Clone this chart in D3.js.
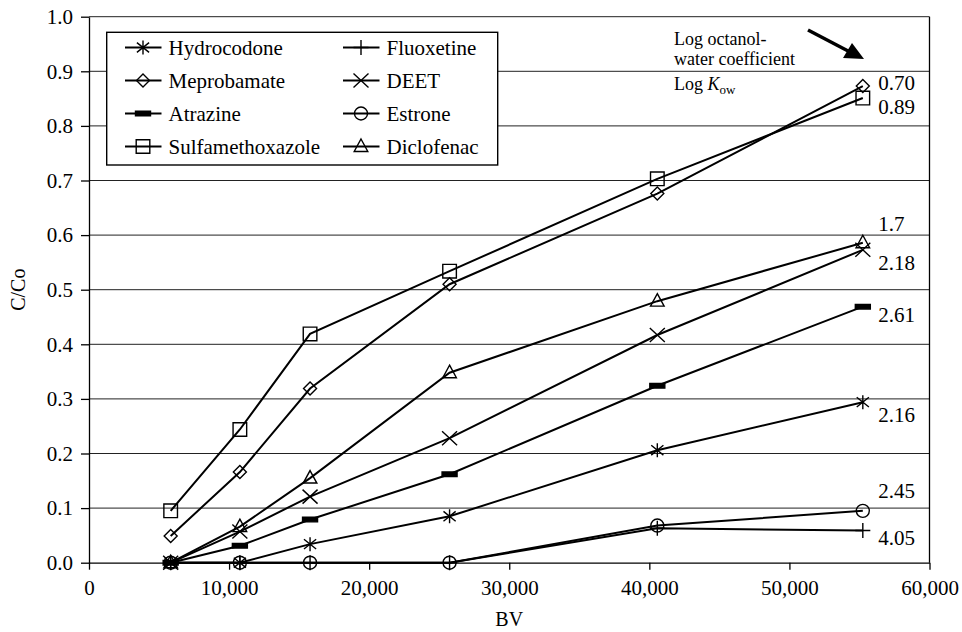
<!DOCTYPE html>
<html><head><meta charset="utf-8">
<script src="https://cdn.jsdelivr.net/npm/d3@7"></script>
<style>
html,body{margin:0;padding:0;background:#fff;}
svg text{font-family:"Liberation Serif","Times New Roman",serif;fill:#000;}
</style></head>
<body>
<svg id="chart" width="962" height="632"></svg>
<script>
// ---- data ----
const bv = [5830, 10770, 15780, 25740, 40570, 55240];
const seriesNames = ["Hydrocodone","Meprobamate","Atrazine","Sulfamethoxazole","Fluoxetine","DEET","Estrone","Diclofenac"];
const hydrocodone      = [0, 0, 0.034, 0.085, 0.206, 0.294];
const meprobamate      = [0.049, 0.166, 0.319, 0.510, 0.676, 0.873];
const atrazine         = [0, 0.031, 0.079, 0.162, 0.324, 0.469];
const sulfamethoxazole = [0.095, 0.244, 0.419, 0.534, 0.703, 0.851];
const fluoxetine       = [0, 0, 0, 0, 0.063, 0.059];
const deet             = [0, 0.057, 0.121, 0.228, 0.417, 0.573];
const estrone          = [0, 0, 0, 0, 0.068, 0.095];
const diclofenac       = [0, 0.066, 0.155, 0.348, 0.479, 0.586];
const logKow = {Hydrocodone:"2.16", Meprobamate:"0.70", Atrazine:"2.61", Sulfamethoxazole:"0.89",
                Fluoxetine:"4.05", DEET:"2.18", Estrone:"2.45", Diclofenac:"1.7"};
const xTicks = [0, 10000, 20000, 30000, 40000, 50000, 60000];
const yTicks = [0,0.1,0.2,0.3,0.4,0.5,0.6,0.7,0.8,0.9,1.0];

const values = {Hydrocodone:hydrocodone, Meprobamate:meprobamate, Atrazine:atrazine,
  Sulfamethoxazole:sulfamethoxazole, Fluoxetine:fluoxetine, DEET:deet, Estrone:estrone, Diclofenac:diclofenac};

// ---- layout / style ----
const L = 89, R = 929.5, T = 16.7, B = 562.7;
const x = d3.scaleLinear().domain([0, 60000]).range([L, R]);
const y = d3.scaleLinear().domain([0, 1]).range([B, T]);
const svg = d3.select("#chart");

// gridlines
svg.append("g").selectAll("line").data(yTicks.slice(1)).join("line")
  .attr("x1", L).attr("x2", R).attr("y1", d=>y(d)).attr("y2", d=>y(d))
  .attr("stroke", "#222").attr("stroke-width", 1);

// frame right
svg.append("line").attr("x1", R).attr("x2", R).attr("y1", T).attr("y2", B)
  .attr("stroke", "#000").attr("stroke-width", 1.3);

// axes
const fmt = d3.format(",");
const xAxis = svg.append("g").attr("transform", `translate(0,${B})`)
  .call(d3.axisBottom(x).tickValues(xTicks).tickFormat(d=>fmt(d)).tickSizeInner(7).tickSizeOuter(0).tickPadding(10));
const yAxis = svg.append("g").attr("transform", `translate(${L},0)`)
  .call(d3.axisLeft(y).tickValues(yTicks).tickFormat(d3.format(".1f")).tickSizeInner(8).tickSizeOuter(0).tickPadding(8));
[xAxis, yAxis].forEach(a=>{
  a.attr("font-family", null);
  a.selectAll("path").attr("stroke","#000").attr("stroke-width",1.3);
  a.selectAll("line").attr("stroke","#000").attr("stroke-width",1.3);
  a.selectAll("text").attr("font-size", 21).attr("fill","#000");
});
xAxis.selectAll("text").attr("dy","0.71em");

// axis titles
svg.append("text").attr("x", (L+R)/2).attr("y", 626).attr("text-anchor","middle")
  .attr("font-size", 20).text("BV");
svg.append("text").attr("transform", `translate(25,${(T+B)/2}) rotate(-90)`).attr("text-anchor","middle")
  .attr("font-size", 20).text("C/Co");

// markers
const S = 7;
const markerShapes = {
  Hydrocodone: {d:`M0,${-S}V${S}M${-S*0.87},${-S*0.7}L${S*0.87},${S*0.7}M${-S*0.87},${S*0.7}L${S*0.87},${-S*0.7}`, fill:"none"},
  Meprobamate: {d:`M0,${-6.5}L6.5,0L0,6.5L-6.5,0Z`, fill:"none"},
  Atrazine: {d:`M-7.5,-2.3H7.5V2.3H-7.5Z`, fill:"#000"},
  Sulfamethoxazole: {d:`M-6.8,-6.8H6.8V6.8H-6.8Z`, fill:"none"},
  Fluoxetine: {d:`M0,-7.5V7.5M-7.5,0H7.5`, fill:"none"},
  DEET: {d:`M-7.5,-7L7.5,7M-7.5,7L7.5,-7`, fill:"none"},
  Estrone: {d:`M6.5,0A6.5,6.5 0 1 1 -6.5,0A6.5,6.5 0 1 1 6.5,0Z`, fill:"none"},
  Diclofenac: {d:`M0,-7.5L6.8,5L-6.8,5Z`, fill:"none"}
};

const line = d3.line().x((d,i)=>x(bv[i])).y(d=>y(d));
const gLines = svg.append("g");
const gMarks = svg.append("g");
seriesNames.forEach(name=>{
  const v = values[name];
  gLines.append("path").attr("d", line(v)).attr("fill","none")
    .attr("stroke","#000").attr("stroke-width",2);
  gMarks.selectAll(null).data(v).join("path")
    .attr("transform",(d,i)=>`translate(${x(bv[i])},${y(d)})`)
    .attr("d", markerShapes[name].d)
    .attr("fill", markerShapes[name].fill)
    .attr("stroke","#000").attr("stroke-width",1.4);
});

// end labels (log Kow)
const labelDy = {Meprobamate:4, Sulfamethoxazole:16, Diclofenac:-12, DEET:20, Atrazine:15,
                 Hydrocodone:20, Estrone:-13, Fluoxetine:15};
seriesNames.forEach(name=>{
  const v = values[name];
  svg.append("text").attr("x", x(bv[5]) + 15.5).attr("y", y(v[5]) + labelDy[name])
    .attr("font-size", 21).text(logKow[name]);
});

// annotation
const ann = svg.append("g").attr("font-size", 18);
ann.append("text").attr("x", 674).attr("y", 45).text("Log octanol-");
ann.append("text").attr("x", 674).attr("y", 64.5).text("water coefficient");
const t3 = ann.append("text").attr("x", 674).attr("y", 90);
t3.append("tspan").text("Log ");
t3.append("tspan").attr("font-style","italic").text("K");
t3.append("tspan").attr("font-size", 13).attr("dy", 4).text("ow");
// arrow
svg.append("line").attr("x1", 808).attr("y1", 30).attr("x2", 850).attr("y2", 52)
  .attr("stroke","#000").attr("stroke-width",3.5);
svg.append("path").attr("d","M864,59L843,58L852,43Z").attr("fill","#000");

// legend
const lg = svg.append("g");
lg.append("rect").attr("x", 106.7).attr("y", 32.3).attr("width", 391).attr("height", 132.7)
  .attr("fill","#fff").attr("stroke","#000").attr("stroke-width",1.4);
const legendCols = [0,0,0,0,1,1,1,1];
const legendRows = [0,1,2,3,0,1,2,3];
seriesNames.forEach((name,i)=>{
  const cx = legendCols[i] ? 343 : 125;
  const cy = 47.5 + legendRows[i]*33;
  lg.append("line").attr("x1", cx).attr("x2", cx+36.5).attr("y1", cy).attr("y2", cy)
    .attr("stroke","#000").attr("stroke-width",2);
  lg.append("path").attr("transform",`translate(${cx+18},${cy})`)
    .attr("d", markerShapes[name].d).attr("fill", markerShapes[name].fill)
    .attr("stroke","#000").attr("stroke-width",1.4);
  lg.append("text").attr("x", cx+43.5).attr("y", cy+7).attr("font-size", 21).text(name);
});
</script>
</body></html>
